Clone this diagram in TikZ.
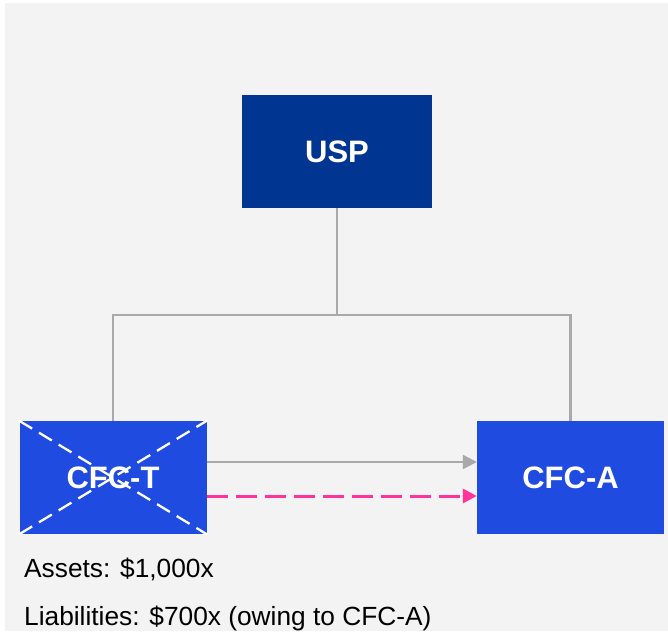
\documentclass[tikz,border=0pt]{standalone}
\usepackage{fontspec}
\setmainfont{Liberation Sans}
\usetikzlibrary{arrows.meta}
\definecolor{panel}{HTML}{F3F3F3}
\definecolor{navy}{HTML}{003591}
\definecolor{royal}{HTML}{1F4BE0}
\definecolor{linkgray}{HTML}{A9A9A9}
\definecolor{loanpink}{HTML}{FF3399}
\tikzset{
  entity/.style={draw=none, minimum width=187pt, minimum height=113pt, inner sep=0pt,
    text=white, font=\fontsize{31}{35}\selectfont\bfseries},
  parent/.style={entity, fill=navy, minimum width=190pt},
  sub/.style={entity, fill=royal},
  tree/.style={draw=linkgray, line width=2.3pt},
  flow/.style={draw=linkgray, line width=2.3pt, -{Triangle[length=14pt,width=14pt]}},
  loan/.style={draw=loanpink, line width=3pt, dash pattern=on 21pt off 8pt,
    -{Triangle[length=14pt,width=14pt]}},
  cross/.style={draw=white, line width=2.3pt, dash pattern=on 15pt off 8pt},
  note/.style={anchor=base west, inner sep=0pt, font=\fontsize{26.3}{30}\selectfont}
}
\begin{document}
\begin{tikzpicture}[x=1pt, y=-1pt]
  \useasboundingbox (0,0) rectangle (668,631);
  \fill[panel] (5,3) rectangle (668,631);

  % entities
  \node[parent] (usp) at (337,151.5) {USP};
  \node[sub] (cfct) at (113,477.5) {};
  \node[sub] (cfca) at (570.5,477.5) {CFC-A};

  % ownership tree
  \coordinate (bus) at (337,315);
  \draw[tree] (usp.south) -- (bus);
  \draw[tree] (cfct.north) |- (bus) -| (cfca.north);

  % flows between subsidiaries
  \draw[flow] (cfct.east |- 0,462) -- (cfca.west |- 0,462);
  \draw[loan] (cfct.east |- 0,496) -- (cfca.west |- 0,496);

  % struck-out CFC-T
  \draw[cross] (cfct.north west) -- (cfct.south east);
  \draw[cross] (cfct.south west) -- (cfct.north east);
  \node[text=white, font=\fontsize{31}{35}\selectfont\bfseries] (cfctlabel) at (cfct.center) {CFC-T};

  % balance sheet notes
  \node[note] (assets) at (24,577) {Assets: \$1,000x};
  \node[note] (liab) at (24,625) {Liabilities: \$700x (owing to CFC-A)};
\end{tikzpicture}
\end{document}
